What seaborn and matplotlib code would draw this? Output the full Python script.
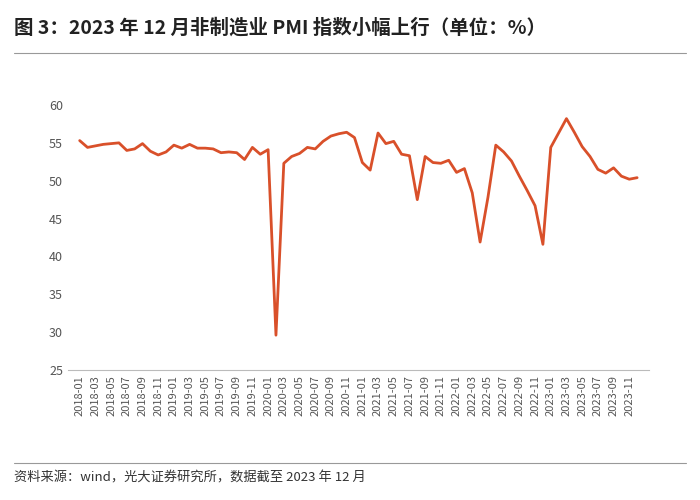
import pandas as pd
import seaborn as sns
import matplotlib.pyplot as plt

# 非制造业 PMI, 2018-01 ~ 2023-12
months = pd.date_range("2018-01", "2023-12", freq="MS").strftime("%Y-%m").tolist()
pmi = [55.3, 54.4, 54.6, 54.8, 54.9, 55.0, 54.0, 54.2, 54.9, 53.9, 53.4, 53.8,
       54.7, 54.3, 54.8, 54.3, 54.3, 54.2, 53.7, 53.8, 53.7, 52.8, 54.4, 53.5,
       54.1, 29.6, 52.3, 53.2, 53.6, 54.4, 54.2, 55.2, 55.9, 56.2, 56.4, 55.7,
       52.4, 51.4, 56.3, 54.9, 55.2, 53.5, 53.3, 47.5, 53.2, 52.4, 52.3, 52.7,
       51.1, 51.6, 48.4, 41.9, 47.8, 54.7, 53.8, 52.6, 50.6, 48.7, 46.7, 41.6,
       54.4, 56.3, 58.2, 56.4, 54.5, 53.2, 51.5, 51.0, 51.7, 50.6, 50.2, 50.4]
df = pd.DataFrame({"month": months, "pmi": pmi, "i": range(len(months))})

sns.set_style("white")
plt.rcParams['font.family'] = ['Noto Sans CJK SC', 'DejaVu Sans']

fig = plt.figure(figsize=(7, 5), dpi=100)
ax = fig.add_axes([0.097, 0.26, 0.83, 0.53])
sns.lineplot(data=df, x="i", y="pmi", color="#d9502a", linewidth=2, ax=ax)

ax.set_ylim(25, 60)
ax.set_yticks(range(25, 61, 5))
ax.set_xlim(-1.5, len(months) + 0.5)
ax.set_xticks(range(0, len(months), 2))
ax.set_xticklabels(months[::2], rotation=90, fontsize=8, color="#555555")
ax.tick_params(axis="y", labelsize=9, colors="#555555", length=0)
ax.tick_params(axis="x", length=0)
ax.set_xlabel("")
ax.set_ylabel("")
for s in ["top", "right", "left"]:
    ax.spines[s].set_visible(False)
ax.spines["bottom"].set_color("#bbbbbb")

fig.text(0.02, 0.945, "图 3：2023 年 12 月非制造业 PMI 指数小幅上行（单位：%）",
         fontsize=14, fontweight="bold", color="#222222", va="center")
fig.add_artist(plt.Line2D([0.02, 0.98], [0.895, 0.895], color="#999999", lw=0.8))
fig.add_artist(plt.Line2D([0.02, 0.98], [0.075, 0.075], color="#999999", lw=0.8))
fig.text(0.02, 0.045, "资料来源：wind，光大证券研究所，数据截至 2023 年 12 月",
         fontsize=9.5, color="#333333", va="center")

fig.savefig("out.png", dpi=100)
